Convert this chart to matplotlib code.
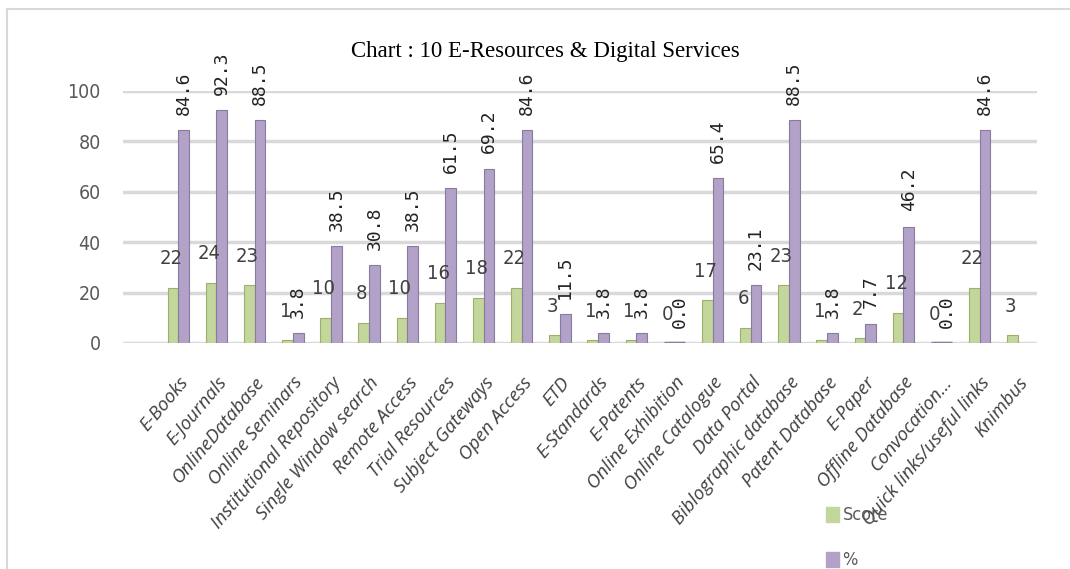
import matplotlib
matplotlib.use('Agg')
import matplotlib.pyplot as plt
import numpy as np

# chart data
categories = ['E-Books', 'E-Journals', 'OnlineDatabase', 'Online Seminars',
              'Institutional Repository', 'Single Window search', 'Remote Access',
              'Trial Resources', 'Subject Gateways', 'Open Access', 'ETD',
              'E-Standards', 'E-Patents', 'Online Exhibition', 'Online Catalogue',
              'Data Portal', 'Biblographic database', 'Patent Database', 'E-Paper',
              'Offline Database', 'Convocation...', 'Quick links/useful links', 'Knimbus']
score = [22, 24, 23, 1, 10, 8, 10, 16, 18, 22, 3, 1, 1, 0, 17, 6, 23, 1, 2, 12, 0, 22, 3]
percent = [84.6, 92.3, 88.5, 3.8, 38.5, 30.8, 38.5, 61.5, 69.2, 84.6, 11.5, 3.8, 3.8, 0.0,
           65.4, 23.1, 88.5, 3.8, 7.7, 46.2, 0.0, 84.6, None]

green = '#C3D69B'
purple = '#B3A2C7'

fig = plt.figure(figsize=(10.7, 5.69), dpi=100)
ax = fig.add_axes([123/1070, 1 - 343/569, (1037-123)/1070, (343-91)/569])

x = np.arange(len(categories))
w = 0.28
ax.bar(x - w/2, score, width=w, color=green, edgecolor='#9BB06A', linewidth=0.8, zorder=3)
pv = [np.nan if p is None else p for p in percent]
ax.bar(x + w/2, pv, width=w, color=purple, edgecolor='#8A7AA0', linewidth=0.8, zorder=3)
# zero height bars show as a flat dark slab in the original
for i in range(len(categories)):
    if score[i] == 0:
        ax.plot([x[i] - w, x[i] + w], [0, 0], color='#8A7AA0', linewidth=2.5, zorder=4,
                solid_capstyle='butt')

# value labels
for i in range(len(categories)):
    ax.annotate(str(score[i]), (x[i] - w/2, score[i]), xytext=(-1.5, 14), textcoords='offset points',
                ha='center', va='bottom', fontsize=14.5, color='#404040', family='DejaVu Sans',
                fontstretch='condensed', annotation_clip=False, zorder=5)
    if percent[i] is not None:
        ax.annotate('%.1f' % percent[i], (x[i] + w/2, percent[i]), xytext=(0, 11),
                    textcoords='offset points', ha='center', va='bottom', rotation=90,
                    fontsize=13, color='#222222', family='DejaVu Sans Mono',
                    annotation_clip=False, zorder=5)

ax.set_xlim(-1.45, 22.5)
ax.set_ylim(0, 100)
ax.set_yticks([0, 20, 40, 60, 80, 100])
ax.yaxis.grid(True, color='#D9D9D9', linewidth=2.5, zorder=0)
ax.set_axisbelow(True)
for s in ax.spines.values():
    s.set_visible(False)
ax.tick_params(axis='y', length=0, pad=16, labelsize=14, labelcolor='#595959')
for lb in ax.get_yticklabels():
    lb.set_fontstretch('condensed')

ax.set_xticks(x)
ax.set_xticklabels(categories, rotation=50, ha='right', rotation_mode='anchor',
                   fontsize=13.5, style='italic', color='#404040', family='Open Sans')
ax.tick_params(axis='x', length=0, pad=22)

fig.text(545/1070, 1 - 52/569, 'Chart : 10 E-Resources & Digital Services', ha='center',
         va='center', fontsize=16.5, family='Liberation Serif', color='black')

# legend
h1 = plt.Rectangle((0, 0), 1, 1, color=green)
h2 = plt.Rectangle((0, 0), 1, 1, color=purple)
leg = fig.legend([h1, h2], ['Score', '%'], loc='upper left',
                 bbox_to_anchor=(810/1070, 1 - 490/569), frameon=False,
                 handlelength=0.7, handleheight=0.9, handletextpad=0.2,
                 labelspacing=1.5, prop={'family': 'DejaVu Sans', 'stretch': 'condensed', 'size': 13})
for t in leg.get_texts():
    t.set_color('#595959')

# outer frame
fig.add_artist(plt.Line2D([7/1070, 1], [1 - 9/569, 1 - 9/569], color='#D9D9D9', linewidth=1.5))
fig.add_artist(plt.Line2D([7/1070, 7/1070], [0, 1 - 9/569], color='#D9D9D9', linewidth=1.5))

fig.savefig('out.png', dpi=100)
